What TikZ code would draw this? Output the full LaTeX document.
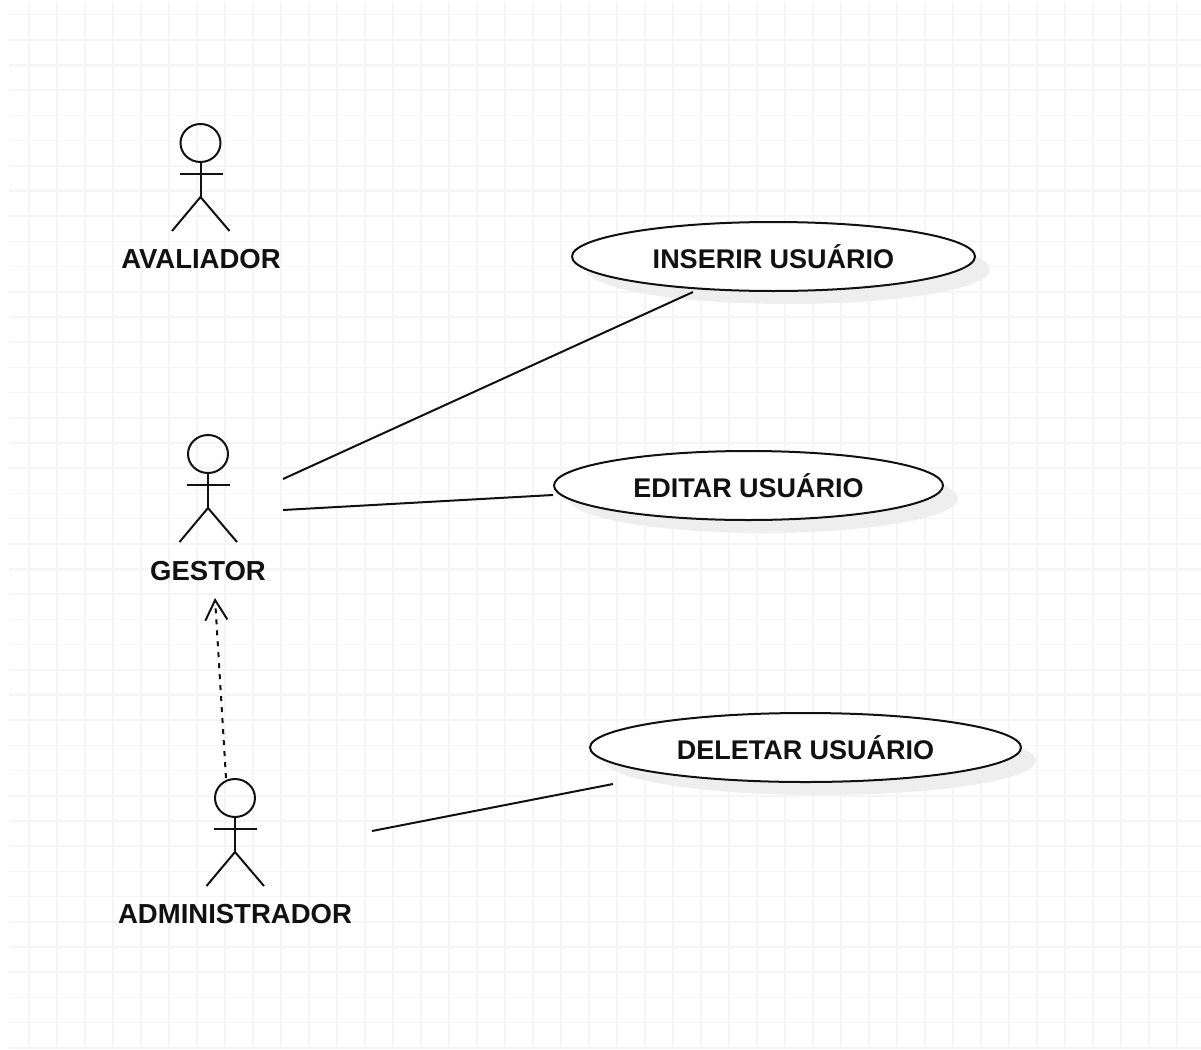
\documentclass[tikz,border=0pt]{standalone}
\usepackage{fontspec}
\setmainfont{Liberation Sans}
\usetikzlibrary{shapes.geometric,arrows.meta}
\definecolor{gridc}{HTML}{F5F5F5}
\definecolor{shadowc}{HTML}{EEEEEE}
\definecolor{inkc}{HTML}{111111}
\tikzset{
  gridline/.style={gridc,line width=1.5pt},
  usecase/.style={ellipse,draw=inkc,fill=white,line width=2pt,inner sep=0pt,font=\fontsize{27}{30}\selectfont\bfseries,text=inkc},
  ushadow/.style={ellipse,fill=shadowc,inner sep=0pt},
  actorhead/.style={ellipse,draw=inkc,line width=2pt,minimum width=40pt,minimum height=38pt,inner sep=0pt},
  actorline/.style={draw=inkc,line width=2pt},
  actorlabel/.style={font=\fontsize{27.5}{30}\selectfont\bfseries,text=inkc,inner sep=0pt},
  assoc/.style={draw=inkc,line width=2pt},
  depend/.style={draw=inkc,line width=2pt,dash pattern=on 5pt off 6pt,-{Straight Barb[length=20pt,width=22pt,line width=2pt]}},
  pics/actor/.style={code={
    \node[actorhead] (#1head) at (0,0) {};
    \coordinate (#1hip) at (0,54);
    \coordinate (#1la) at (-21,31);
    \coordinate (#1ra) at (22,31);
    \coordinate (#1ll) at (-28.5,88);
    \coordinate (#1rl) at (29,88);
    \draw[actorline] (#1head.south) -- (#1hip);
    \draw[actorline] (#1la) -- (#1ra);
    \draw[actorline] (#1ll) -- (#1hip) -- (#1rl);
  }}
}
\begin{document}
\begin{tikzpicture}[x=1pt,y=-1pt]
\useasboundingbox (0,0) rectangle (1201,1049);
\fill[white] (0,0) rectangle (1201,1049);
\foreach \i in {0,...,41} {\draw[gridline] ({29+28*\i},3) -- ({29+28*\i},1049);}
\foreach \j in {0,...,41} {\draw[gridline] (9,{14.6+25.2*\j}) -- (1201,{14.6+25.2*\j});}

% shadows
\node[ushadow,minimum width=403pt,minimum height=69pt] (s1) at (788.5,269.5) {};
\node[ushadow,minimum width=389pt,minimum height=69pt] (s2) at (763.5,498.5) {};
\node[ushadow,minimum width=431pt,minimum height=69pt] (s3) at (820.5,760.5) {};

% use cases
\node[usecase,minimum width=403pt,minimum height=69pt] (ins) at (773.5,256.5) {INSERIR USUÁRIO};
\node[usecase,minimum width=389pt,minimum height=69pt] (edi) at (748.5,485.5) {EDITAR USUÁRIO};
\node[usecase,minimum width=431pt,minimum height=69pt] (del) at (805.5,747.5) {DELETAR USUÁRIO};

% actors
\pic at (200.5,143) {actor=av};
\pic at (208,454) {actor=ge};
\pic at (235,798) {actor=ad};
\node[actorlabel] (avl) at (201,259) {AVALIADOR};
\node[actorlabel] (gel) at (208,571) {GESTOR};
\node[actorlabel] (adl) at (235,914) {ADMINISTRADOR};

% free ends of connectors
\coordinate (g1) at (283,479);
\coordinate (g2) at (283,510);
\coordinate (a1) at (372,831);
\coordinate (i1) at (693,292);
\coordinate (e1) at (553,495);
\coordinate (d1) at (613,784);
\coordinate (dep0) at (226,778);
\coordinate (dep1) at (215,598);

\draw[assoc] (g1) -- (i1);
\draw[assoc] (g2) -- (e1);
\draw[assoc] (a1) -- (d1);
\draw[depend] (dep0) -- (dep1);
\end{tikzpicture}
\end{document}
